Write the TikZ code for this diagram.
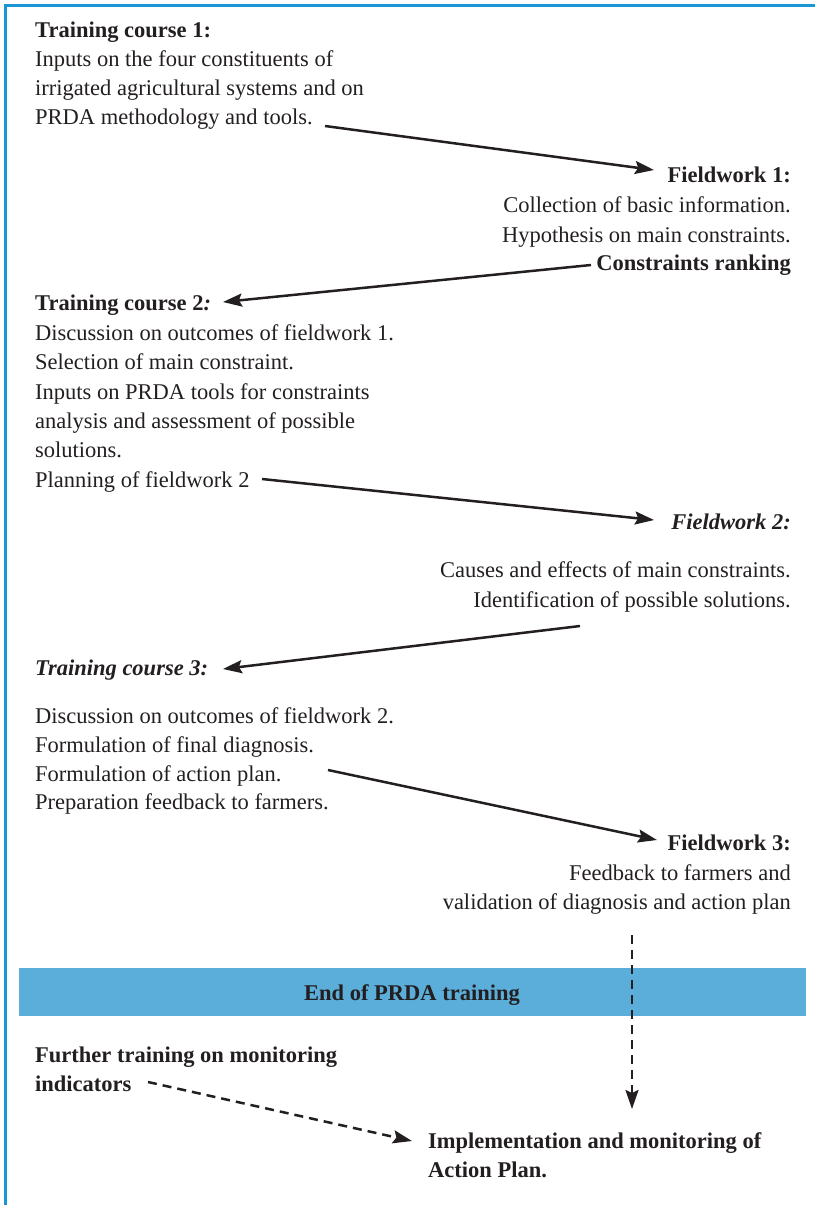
\documentclass[tikz,border=0pt]{standalone}
\usepackage{fontspec}
\setmainfont{Liberation Serif}
\usetikzlibrary{arrows.meta}
\definecolor{frameblue}{HTML}{1A96D4}
\definecolor{bandblue}{HTML}{5AAED9}
\definecolor{ink}{HTML}{231F20}
\begin{document}
\begin{tikzpicture}[x=1pt,y=-1pt,
  txt/.style={inner sep=0pt, text=ink, font=\fontsize{22.5}{29}\selectfont},
  lft/.style={txt, anchor=base west},
  rgt/.style={txt, anchor=base east},
  flow/.style={draw=ink, line width=2.5pt, -{Stealth[length=19pt,width=13pt,inset=3pt]}},
  dflow/.style={flow, dash pattern=on 9pt off 6pt},
]
\useasboundingbox (0,0) rectangle (815,1205);
% frame
\draw[frameblue, line width=3pt] (5,1205) -- (5,5) -- (815,5);
% band
\fill[bandblue] (19,968) rectangle (806,1016);
\node[txt, anchor=base] (band) at (412,1000) {\bfseries End of PRDA training};

% Training course 1
\node[lft] (t1a) at (35,37) {\bfseries Training course 1:};
\node[lft] (t1b) at (35,66) {Inputs on the four constituents of};
\node[lft] (t1c) at (35,95) {irrigated agricultural systems and on};
\node[lft] (t1d) at (35,124) {PRDA methodology and tools.};

% Fieldwork 1
\node[rgt] (f1a) at (791,182) {\bfseries Fieldwork 1:};
\node[rgt] (f1b) at (791,212) {Collection of basic information.};
\node[rgt] (f1c) at (791,242) {Hypothesis on main constraints.};
\node[rgt] (f1d) at (791,270) {\bfseries Constraints ranking};

% Training course 2
\node[lft] (t2a) at (35,310) {\bfseries Training course 2\textit{:}};
\node[lft] (t2b) at (35,340) {Discussion on outcomes of fieldwork 1.};
\node[lft] (t2c) at (35,369) {Selection of main constraint.};
\node[lft] (t2d) at (35,399) {Inputs on PRDA tools for constraints};
\node[lft] (t2e) at (35,428) {analysis and assessment of possible};
\node[lft] (t2f) at (35,457) {solutions.};
\node[lft] (t2g) at (35,487) {Planning of fieldwork 2};

% Fieldwork 2
\node[rgt] (f2a) at (791,529) {\bfseries\itshape Fieldwork 2:};
\node[rgt] (f2b) at (791,577) {Causes and effects of main constraints.};
\node[rgt] (f2c) at (791,607) {Identification of possible solutions.};

% Training course 3
\node[lft] (t3a) at (35,675) {\bfseries\itshape Training course 3:};
\node[lft] (t3b) at (35,723) {Discussion on outcomes of fieldwork 2.};
\node[lft] (t3c) at (35,752) {Formulation of final diagnosis.};
\node[lft] (t3d) at (35,781) {Formulation of action plan.};
\node[lft] (t3e) at (35,809) {Preparation feedback to farmers.};

% Fieldwork 3
\node[rgt] (f3a) at (791,850) {\bfseries Fieldwork 3:};
\node[rgt] (f3b) at (791,880) {Feedback to farmers and};
\node[rgt] (f3c) at (791,909) {validation of diagnosis and action plan};

% Further training
\node[lft] (ft1) at (35,1062) {\bfseries Further training on monitoring};
\node[lft] (ft2) at (35,1091) {\bfseries indicators};

% Implementation
\node[lft] (im1) at (428,1148) {\bfseries Implementation and monitoring of};
\node[lft] (im2) at (428,1177) {\bfseries Action Plan.};

% arrow end points
\coordinate (a1s) at (325,126);  \coordinate (a1e) at (654,170);
\coordinate (a2s) at (591,265);  \coordinate (a2e) at (223,302);
\coordinate (a3s) at (262,479);  \coordinate (a3e) at (654,520);
\coordinate (a4s) at (580,626);  \coordinate (a4e) at (223,669);
\coordinate (a5s) at (328,770);  \coordinate (a5e) at (657,840);
\coordinate (a6s) at (632,935);  \coordinate (a6e) at (632,1109);
\coordinate (a7s) at (148,1082); \coordinate (a7e) at (412,1141);

\draw[flow] (a1s) -- (a1e);
\draw[flow] (a2s) -- (a2e);
\draw[flow] (a3s) -- (a3e);
\draw[flow] (a4s) -- (a4e);
\draw[flow] (a5s) -- (a5e);
\draw[dflow] (a6s) -- (a6e);
\draw[dflow] (a7s) -- (a7e);
\end{tikzpicture}
\end{document}
